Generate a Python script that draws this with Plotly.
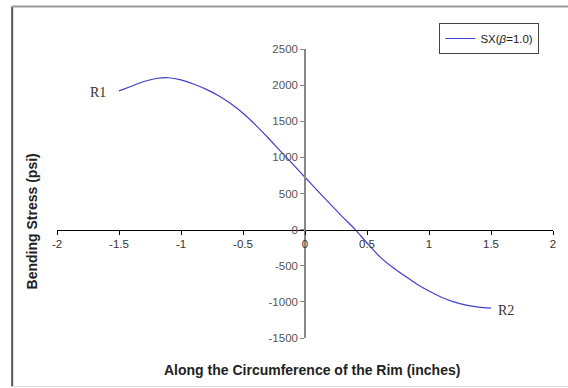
import plotly.graph_objects as go

# Data
x_inches = [-1.5, -1.4, -1.3, -1.2, -1.1, -1.0, -0.9, -0.8, -0.7, -0.6, -0.5, -0.4,
            -0.3, -0.2, -0.1, 0.0, 0.1, 0.2, 0.3, 0.4, 0.5, 0.6, 0.7, 0.8, 0.9,
            1.0, 1.1, 1.2, 1.3, 1.4, 1.5]
stress_psi = [1920, 1985, 2050, 2092, 2102, 2072, 2015, 1945, 1855, 1745, 1610, 1450,
              1275, 1090, 910, 725, 540, 360, 180, 10, -185, -370, -515, -635, -752,
              -850, -935, -1000, -1045, -1072, -1087]
x_ticks = [-2, -1.5, -1, -0.5, 0, 0.5, 1, 1.5, 2]
y_ticks = [-1500, -1000, -500, 0, 500, 1000, 1500, 2000, 2500]
series_name = "SX(<i>β</i>=1.0)"
end_labels = ["R1", "R2"]

fig = go.Figure()
fig.add_trace(go.Scatter(
    x=x_inches, y=stress_psi, mode="lines", name=series_name,
    line=dict(color="#4040c8", width=1.2, shape="spline", smoothing=0.8),
))

fig.update_layout(
    width=568, height=388,
    margin=dict(l=57, r=13, t=49, b=50),
    paper_bgcolor="white", plot_bgcolor="white",
    showlegend=True,
    legend=dict(x=0.771, y=1.09, xanchor="left", yanchor="top",
                bordercolor="#444", borderwidth=1, bgcolor="white",
                font=dict(family="Liberation Sans, Arial", size=11.5, color="#222"),
                tracegroupgap=0, itemwidth=30),
    xaxis=dict(range=[-2, 2], tickvals=x_ticks, ticktext=[f"{v:g}" for v in x_ticks],
               anchor="free", position=0.375, showgrid=False, zeroline=False,
               showline=True, linecolor="black", linewidth=1,
               ticks="outside", ticklen=4, tickcolor="black",
               tickfont=dict(family="Liberation Sans, Arial", size=11.5, color="#333")),
    yaxis=dict(range=[-1500, 2500], tickvals=y_ticks, ticktext=[f"{v:g}" for v in y_ticks],
               anchor="free", position=0.5, showgrid=False, zeroline=False,
               showline=True, linecolor="#888", linewidth=1.5,
               ticks="outside", ticklen=4, tickcolor="#888",
               tickfont=dict(family="Liberation Sans, Arial", size=11.5, color="#555")),
    font=dict(family="Liberation Sans, Arial"),
)

# Axis titles
fig.add_annotation(text="<b>Along the Circumference of the Rim (inches)</b>",
                   xref="paper", yref="paper", x=(313 - 57) / 498, y=(337.5 - 369) / 288.5,
                   showarrow=False, xanchor="center", yanchor="middle",
                   font=dict(family="Liberation Sans, Arial", size=14, color="#222"))
fig.add_annotation(text="<b>Bending Stress (psi)</b>", textangle=-90,
                   xref="paper", yref="paper", x=(32 - 57) / 498, y=(337.5 - 221) / 288.5,
                   showarrow=False, xanchor="center", yanchor="middle",
                   font=dict(family="Liberation Sans, Arial", size=14, color="#222"))

# End labels
fig.add_annotation(text=end_labels[0], x=x_inches[0] - 0.09, y=stress_psi[0] - 20,
                   xanchor="right", yanchor="middle", showarrow=False,
                   font=dict(family="Liberation Serif, Times New Roman", size=14, color="#333"))
fig.add_annotation(text=end_labels[1], x=x_inches[-1] + 0.04, y=stress_psi[-1] - 30,
                   xanchor="left", yanchor="middle", showarrow=False,
                   font=dict(family="Liberation Serif, Times New Roman", size=14, color="#333"))

# Chart frame
fx0, fx1 = (12 - 57) / 498, (572 - 57) / 498
fy0, fy1 = (337.5 - 386) / 288.5, (337.5 - 6.5) / 288.5
fig.add_shape(type="line", xref="paper", yref="paper", x0=fx0, x1=fx0, y0=fy0, y1=fy1,
              line=dict(color="#555", width=2))
fig.add_shape(type="line", xref="paper", yref="paper", x0=fx0, x1=fx1, y0=fy1, y1=fy1,
              line=dict(color="#999", width=2))
fig.add_shape(type="line", xref="paper", yref="paper", x0=fx0, x1=fx1, y0=fy0, y1=fy0,
              line=dict(color="#ddd", width=1))

fig.write_html("out.html")
